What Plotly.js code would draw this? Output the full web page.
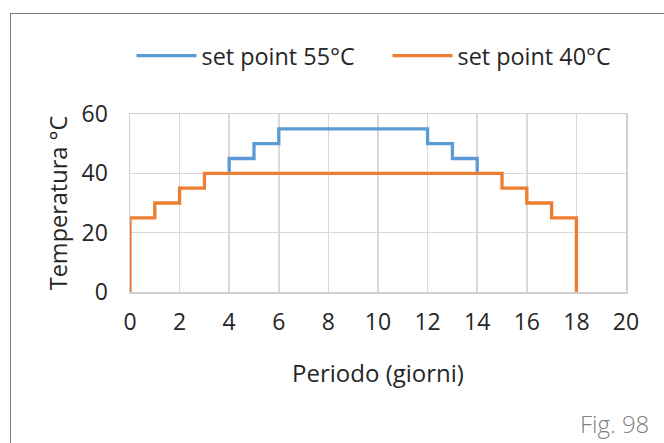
<!DOCTYPE html>
<html>
<head>
<meta charset="utf-8">
<script src="https://cdn.plot.ly/plotly-3.0.1.min.js"></script>
<style>
  html, body { margin: 0; padding: 0; background: #fff; overflow: hidden; }
  #chart { width: 664px; height: 443px; }
  #frame { position: absolute; left: 10px; top: 13px; width: 700px; height: 500px;
           border-left: 1.5px solid #7f7f7f; border-top: 1.5px solid #7f7f7f; pointer-events: none; }
</style>
</head>
<body>
<div id="chart"></div>
<div id="frame"></div>
<script>
// Step points (day, temperature °C)
const giorni55 = [4, 4, 5, 6, 12, 13, 14];
const temp55   = [40, 45, 50, 55, 50, 45, 40];
const giorni40 = [0, 0, 1, 2, 3, 15, 16, 17, 18];
const temp40   = [0, 25, 30, 35, 40, 35, 30, 25, 0];
const seriesNames = ['set point 55°C', 'set point 40°C'];
const xTicks = [0, 2, 4, 6, 8, 10, 12, 14, 16, 18, 20];
const yTicks = [0, 20, 40, 60];

const FONT = '"Open Sans", sans-serif';
const TXT = '#262626';

const traces = [
  { x: giorni55, y: temp55, name: seriesNames[0], mode: 'lines',
    line: { color: '#5B9BD5', width: 3.3, shape: 'hv' } },
  { x: giorni40, y: temp40, name: seriesNames[1], mode: 'lines',
    line: { color: '#ED7D31', width: 3.3, shape: 'hv' } }
];

const layout = {
  width: 664, height: 443,
  margin: { l: 129.5, r: 38, t: 114, b: 151 },
  paper_bgcolor: '#fff', plot_bgcolor: '#fff',
  font: { family: FONT, color: TXT, size: 23 },
  showlegend: true,
  legend: { orientation: 'h', x: -0.005, xanchor: 'left',
            y: (292 - 56) / 178, yanchor: 'middle',
            font: { family: FONT, size: 23.4, color: TXT },
            itemwidth: 60, entrywidth: 181, entrywidthmode: 'pixels',
            borderwidth: 4, bordercolor: 'rgba(0,0,0,0)',
            bgcolor: 'rgba(0,0,0,0)' },
  xaxis: {
    range: [0, 20], tickvals: xTicks, ticktext: xTicks.map(String),
    showgrid: true, gridcolor: '#d9d9d9', gridwidth: 1.5,
    zeroline: false, showline: true, linecolor: '#d0d0d0', linewidth: 1.5, mirror: true,
    ticks: '', ticklabelstandoff: 9,
    tickfont: { family: FONT, size: 23, color: TXT },
    title: { text: 'Periodo (giorni)', font: { family: FONT, size: 24, color: TXT }, standoff: 29 },
    fixedrange: true
  },
  yaxis: {
    range: [0, 60], tickvals: yTicks, ticktext: yTicks.map(String),
    showgrid: true, gridcolor: '#d9d9d9', gridwidth: 1.5,
    zeroline: false, showline: true, linecolor: '#d0d0d0', linewidth: 1.5, mirror: true,
    ticks: '', ticklabelstandoff: 16,
    tickfont: { family: FONT, size: 23, color: TXT },
    title: { text: 'Temperatura °C', font: { family: FONT, size: 23.5, color: TXT }, standoff: 7 },
    fixedrange: true
  },
  annotations: [
    { text: 'Fig. 98', xref: 'paper', yref: 'paper', x: (651 - 129.5) / 496.5, y: (292 - 423) / 178,
      xanchor: 'right', yanchor: 'middle',
      showarrow: false, font: { family: FONT, size: 24, color: '#808080', weight: 300 } }
  ]
};

Plotly.newPlot('chart', traces, layout, { displayModeBar: false, staticPlot: true });
</script>
</body>
</html>
